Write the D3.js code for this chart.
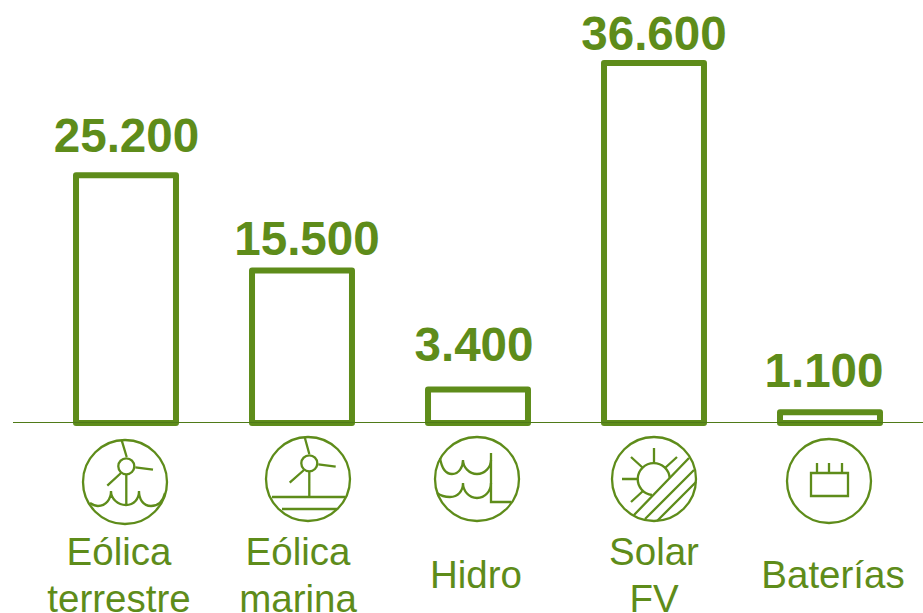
<!DOCTYPE html>
<html><head><meta charset="utf-8">
<script src="https://cdn.jsdelivr.net/npm/d3@7/dist/d3.min.js"></script>
<style>html,body{margin:0;padding:0;background:#fff;overflow:hidden}svg{display:block}text{font-family:"Liberation Sans",Arial,sans-serif}</style>
</head><body><svg id="c" width="923" height="613"></svg>
<script>
const categories=["Eólica terrestre","Eólica marina","Hidro","Solar FV","Baterías"];
const values=[25200,15500,3400,36600,1100];
const valueLabels=["25.200","15.500","3.400","36.600","1.100"];
const labelLines=[["Eólica","terrestre"],["Eólica","marina"],["Hidro"],["Solar","FV"],["Baterías"]];
const labelCentres=[119,298,476,654,833];
const labelY=[[565,612],[565,612],[588],[565,612],[588]];
const valueCentres=[126.5,307,474,654,824];
const valueBaselines=[152,255,361,50,387];
const iconKeys=["onshore","offshore","hydro","solar","battery"];
const iconCentres=[[125,482],[308,479],[477,479],[654,479],[829,481]];
const green="#5e8c1a";
const svg=d3.select("#c");
const x=d3.scaleBand().domain(categories).range([38,918]).paddingInner(0.432).paddingOuter(0.216);
const y=d3.scaleLinear().domain([0,36600]).range([423,63]);

svg.selectAll("rect.bar").data(values).join("rect").attr("class","bar")
 .attr("x",(d,i)=>x(categories[i])).attr("width",x.bandwidth())
 .attr("y",d=>y(d)).attr("height",d=>y(0)-y(d))
 .attr("fill","#fff").attr("stroke",green).attr("stroke-width",6).attr("stroke-linejoin","round");

svg.append("line").attr("x1",13).attr("x2",923).attr("y1",y(0)-.5).attr("y2",y(0)-.5).attr("stroke","#4f7a18").attr("stroke-width",1.2);

svg.selectAll("text.val").data(valueLabels).join("text").attr("class","val")
 .attr("x",(d,i)=>valueCentres[i]).attr("y",(d,i)=>valueBaselines[i])
 .attr("text-anchor","middle").attr("font-size",47.6).attr("font-weight","bold").attr("fill",green).text(d=>d);

labelLines.forEach((lines,i)=>{
  lines.forEach((l,j)=>{
    svg.append("text").attr("x",labelCentres[i]).attr("y",labelY[i][j])
      .attr("text-anchor","middle").attr("font-size",38.5).attr("fill",green).text(l);
  });
});

const icons={
 onshore:["M1.7,-25 L-3.3,-41.7 M10.3,-14.7 L28,-12.3 M-4,-9 L-17.7,3.7 M1.3,-7.7 L1.3,22.7",
  "M-35,21 C-31,23.5 -29,24 -27,24 C-19,24 -14,17 -14,9 C-14,17 -7,23 1,23 C9,23 14,17 14,9 C14,17 18,24 26,24 C33,24 38,19 40,11"],
 offshore:["M1.3,-25 L-3.3,-41.7 M10.3,-14.7 L27.7,-12.3 M-4,-9 L-18.3,3.7 M1.3,-7.7 L1.3,18 M-36,18 L37,18 M-26,30 L29,30"],
 hydro:["M-37,-21 C-35,-9 -30,-5 -25,-5 C-18,-5 -14,-12 -14,-19 C-14,-12 -8,-5 0,-5 C8,-5 14,-12 14,-19",
  "M-40,14 C-36,17 -31,18 -27,18 C-19,18 -14,12 -14,4 C-14,12 -8,19 0,19 C8,19 14,12 14,4",
  "M14,-26 L14,23 L34,23"],
 solar:["M0,-31 L0,-16 M-23,-22 L-11,-11 M23,-22 L11,-11 M-32,0 L-16,0 M-23,23 L-11,12",
  "M-2,16 A16,16 0 1 1 15.7,-1","M-20,36 L35,-21 M-9,40 L40,-9 M3,42 L42,3"],
 battery:["M-18,-8 L19,-8 L19,15 L-18,15 Z M-12,-18 L-12,-8 M0,-18 L0,-8 M13,-18 L13,-8"]
};
const g=svg.selectAll("g.icon").data(iconKeys).join("g").attr("class","icon")
 .attr("transform",(d,i)=>`translate(${iconCentres[i]})`).attr("fill","none").attr("stroke",green).attr("stroke-width",2.3);
g.append("circle").attr("r",42);
g.filter(d=>d=="onshore"||d=="offshore").append("circle").attr("cx",1.3).attr("cy",-15.7).attr("r",8);
g.selectAll("path").data(d=>icons[d]).join("path").attr("d",d=>d);
</script></body></html>
